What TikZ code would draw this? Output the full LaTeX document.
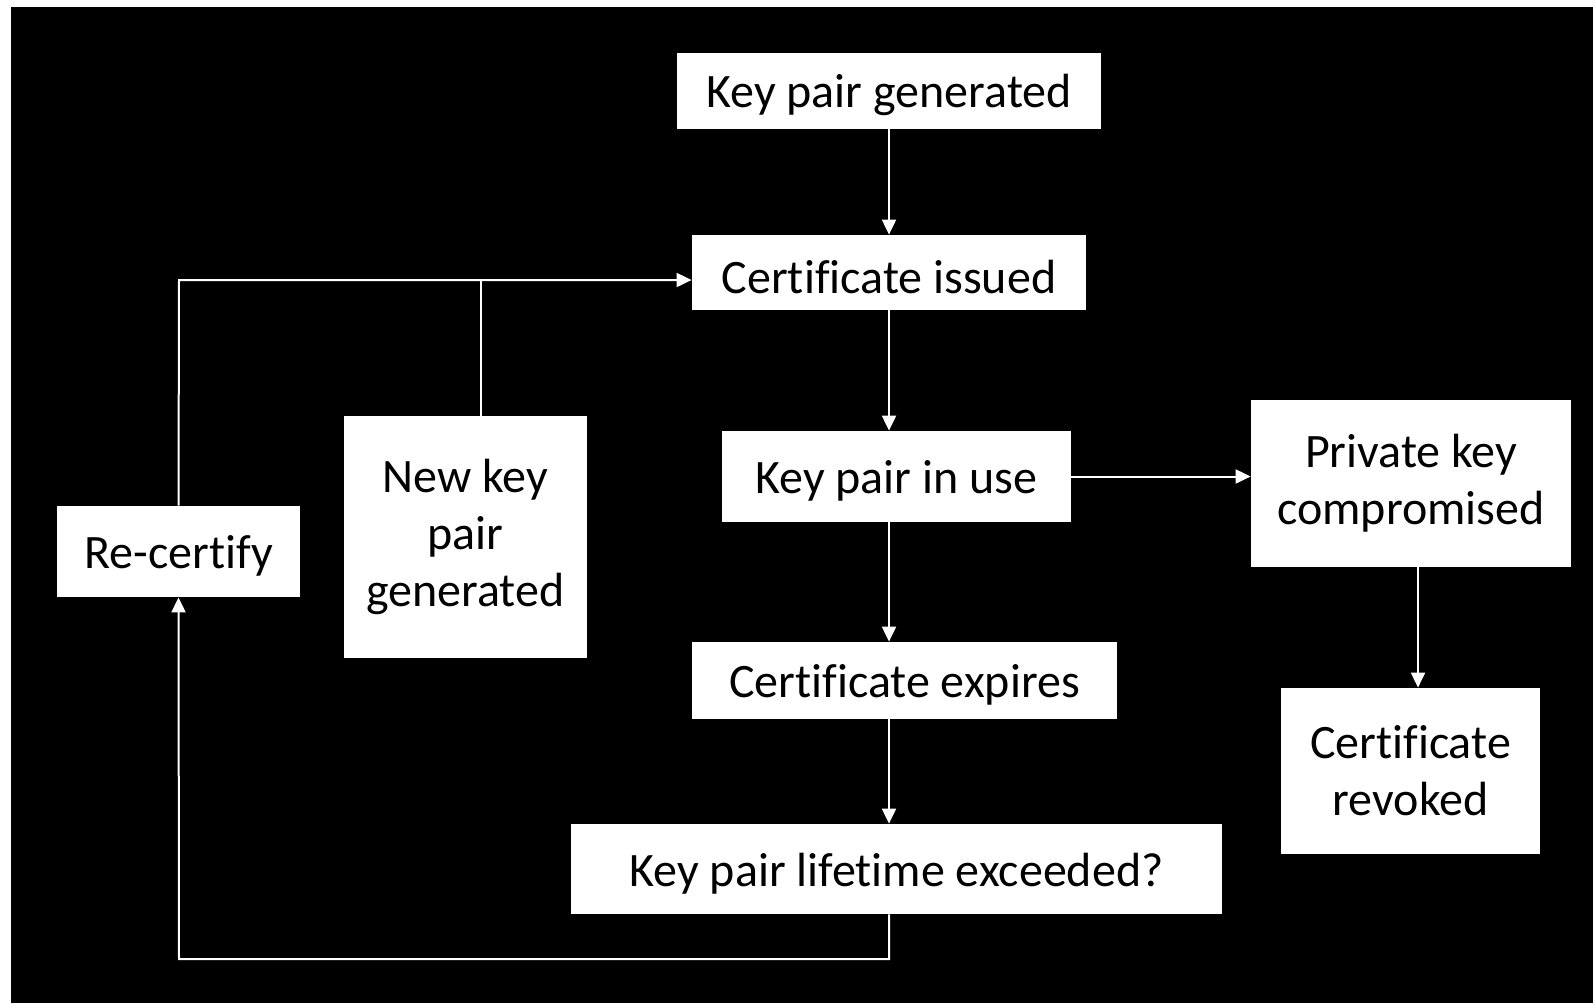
\documentclass[tikz,border=0pt]{standalone}
\usepackage{fontspec}
\setmainfont{Carlito}[Ligatures={NoCommon,NoContextual}]
\usetikzlibrary{arrows.meta,positioning,calc}

\begin{document}
\begin{tikzpicture}[x=0.5pt,y=-0.5pt,
			box/.style={rectangle,fill=white,text=black,inner sep=0pt,align=center,
				font=\fontsize{24}{28.5}\selectfont,execute at begin node={\rule{0pt}{21pt}}},
			flow/.style={white,line width=1pt,-{Triangle[length=7.5pt,width=7pt]}},
			link/.style={white,line width=1pt}]
		\useasboundingbox (0,0) rectangle (1593,1003);
		\fill[white] (0,0) rectangle (1593,1003);
		\fill[black] (11,7) rectangle (1593,1003);
		\path 	(889,91) 	node (kpg) 	[box, minimum width=212pt, minimum height=38pt] {Key pair generated}
		        (889,272.5) node (ci) 	[box, minimum width=197pt, minimum height=37.5pt] {Certificate issued}
		        (896.5,476.5) node (use) [box, minimum width=174.5pt, minimum height=45.5pt] {Key pair in use}
		        (1411,483.5) node (comp) [box, minimum width=160pt, minimum height=83.5pt] {Private key\\compromised}
		        (904.5,680.5) node (exp) [box, minimum width=212.5pt, minimum height=38.5pt] {Certificate expires}
		        (896.5,869) node (life) [box, minimum width=325.5pt, minimum height=45pt] {Key pair lifetime exceeded?}
		        (1410.5,771) node (rev) [box, minimum width=129.5pt, minimum height=83pt] {Certificate\\revoked}
		        (178.5,551.5) node (recert) [box, minimum width=121.5pt, minimum height=45.5pt] {Re-certify}
		        (465.5,537) node (newkey) [box, minimum width=121.5pt, minimum height=121pt] {New key\\pair\\generated};
		\coordinate (bl) at (179,959);
		\coordinate (br) at (889,959);
		\coordinate (tl) at (179,280);
		\coordinate (tm) at (481,280);
		\draw [flow] (kpg.south) -- (kpg.south |- ci.north);
		\draw [flow] (ci.south) -- (ci.south |- use.north);
		\draw [flow] (ci.south |- use.south) -- (ci.south |- exp.north);
		\draw [flow] (ci.south |- exp.south) -- (ci.south |- life.north);
		\draw [flow] (use.east) -- (use.east -| comp.west);
		\draw [flow] (1418,0 |- comp.south) -- (1418,0 |- rev.north);
		\draw [flow] (br |- life.south) -- (br) -- (bl) -- (recert.south);
		\draw [flow] (recert.north) -- (tl) -- (tl -| ci.west);
		\draw [link] (tm |- newkey.north) -- (tm);
	\end{tikzpicture}
\end{document}
